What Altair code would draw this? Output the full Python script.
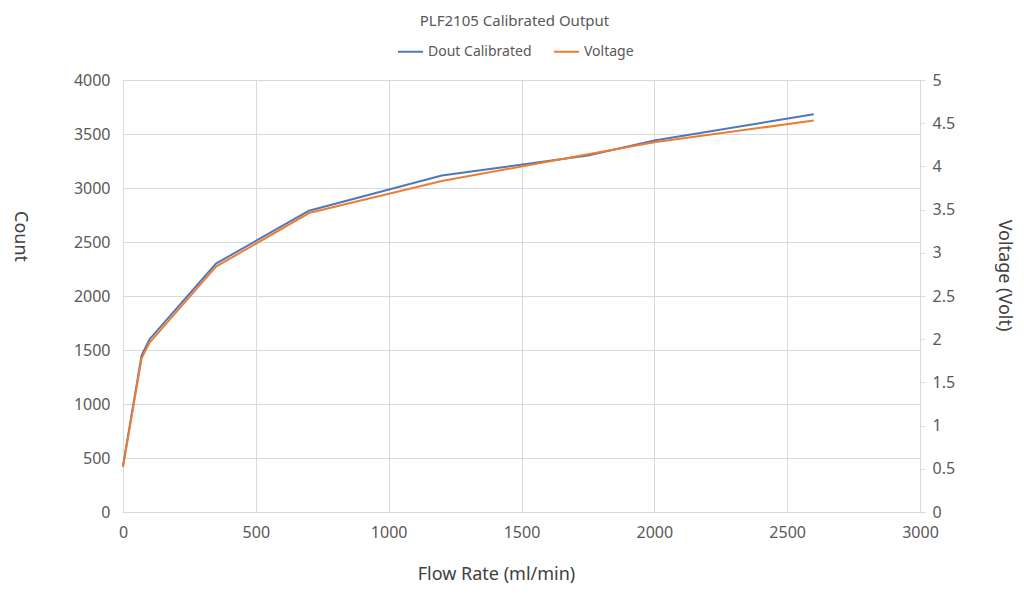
import altair as alt
import pandas as pd

flow = [0, 70, 100, 350, 700, 1200, 1750, 2000, 2600]
dout = [430, 1450, 1600, 2300, 2790, 3115, 3300, 3440, 3682]
voltage = [0.52, 1.78, 1.96, 2.84, 3.46, 3.83, 4.14, 4.28, 4.53]

series = ["Dout Calibrated", "Voltage"]
colors = ["#4F77B9", "#ED7D31"]

x_ticks = [0, 500, 1000, 1500, 2000, 2500, 3000]
count_ticks = [0, 500, 1000, 1500, 2000, 2500, 3000, 3500, 4000]
volt_ticks = [0, 0.5, 1, 1.5, 2, 2.5, 3, 3.5, 4, 4.5, 5]

df = pd.DataFrame({"flow": flow, "dout": dout, "voltage": voltage})

FONT = "Noto Sans"
LABEL = "#595959"
TITLEC = "#404040"
GRID = "#D9D9D9"

color_scale = alt.Scale(domain=series, range=colors)
x_scale = alt.Scale(domain=[0, 3000], nice=False)

x_enc = alt.X(
    "flow:Q",
    scale=x_scale,
    axis=alt.Axis(
        title="Flow Rate (ml/min)",
        values=x_ticks,
        format="d",
        grid=True,
        gridColor=GRID,
        domainColor=GRID,
        ticks=False,
        labelFlush=False,
        labelPadding=12,
        labelFontSize=16,
        labelColor=LABEL,
        labelFont=FONT,
        titleFont=FONT,
        titleFontSize=18,
        titleFontWeight="normal",
        titleColor=TITLEC,
        titleX=373,
        titleY=62,
        titleBaseline="middle",
        titleAlign="center",
    ),
)

left = alt.Chart(df).transform_calculate(series="'Dout Calibrated'").mark_line(strokeWidth=2).encode(
    x=x_enc,
    y=alt.Y(
        "dout:Q",
        scale=alt.Scale(domain=[0, 4000], nice=False),
        axis=alt.Axis(
            title="Count",
            orient="left",
            values=count_ticks,
            format="d",
            grid=True,
            gridColor=GRID,
            domain=False,
            ticks=False,
            labelFlush=False,
            labelPadding=13,
            labelFontSize=16,
            labelColor=LABEL,
            labelFont=FONT,
            titleFont=FONT,
            titleFontSize=18,
            titleFontWeight="normal",
            titleColor=TITLEC,
            titleAngle=90,
            titleX=-104,
            titleY=156,
            titleBaseline="middle",
            titleAlign="center",
        ),
    ),
    color=alt.Color(
        "series:N",
        scale=color_scale,
        legend=alt.Legend(
            title=None,
            orient="none",
            direction="horizontal",
            legendX=274,
            legendY=-42,
            symbolType="stroke",
            symbolSize=625,
            symbolStrokeWidth=2,
            labelFontSize=14,
            labelColor=LABEL,
            labelFont=FONT,
            labelOffset=4,
            columnPadding=18,
        ),
    ),
)

right = alt.Chart(df).transform_calculate(series="'Voltage'").mark_line(strokeWidth=2).encode(
    x=alt.X("flow:Q", scale=x_scale),
    y=alt.Y(
        "voltage:Q",
        scale=alt.Scale(domain=[0, 5], nice=False),
        axis=alt.Axis(
            title="Voltage (Volt)",
            orient="right",
            values=volt_ticks,
            format="~g",
            grid=False,
            domainColor=GRID,
            ticks=True,
            tickColor=GRID,
            tickSize=5,
            labelFlush=False,
            labelPadding=7,
            labelFontSize=16,
            labelColor=LABEL,
            labelFont=FONT,
            titleFont=FONT,
            titleFontSize=18,
            titleFontWeight="normal",
            titleColor=TITLEC,
            titleAngle=90,
            titleX=83,
            titleY=195,
            titleBaseline="middle",
            titleAlign="center",
        ),
    ),
    color=alt.Color("series:N", scale=color_scale),
)

chart = (
    alt.layer(left, right)
    .resolve_scale(y="independent")
    .properties(
        width=797,
        height=432,
        autosize=alt.AutoSizeParams(type="none"),
        padding={"left": 115, "top": 72, "right": 96, "bottom": 72},
        title=alt.TitleParams(
            "PLF2105 Calibrated Output",
            fontSize=15,
            color=LABEL,
            font=FONT,
            fontWeight="normal",
            anchor="middle",
            offset=9,
            dx=-7,
        ),
    )
    .configure_view(stroke=None)
    .configure(background="white")
)

chart.save("out.html", embed_options={"renderer": "svg", "actions": False})
